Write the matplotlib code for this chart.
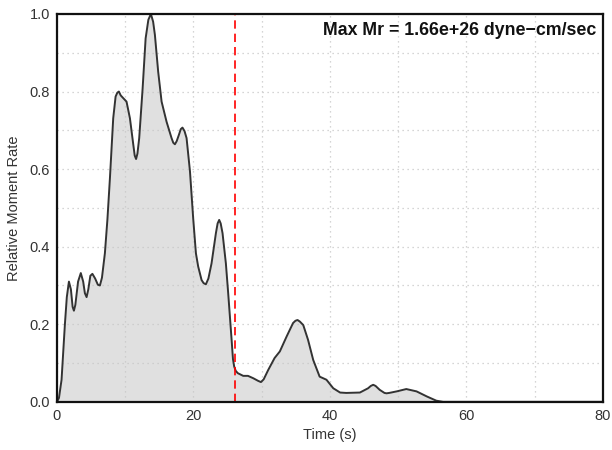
import matplotlib
matplotlib.use('Agg')
import matplotlib.pyplot as plt

plt.rcParams['font.family'] = ['Liberation Sans', 'DejaVu Sans']

# moment rate function
time_s = [0.0, 0.3, 0.68, 1.17, 1.45, 1.76, 2.05, 2.3, 2.49, 2.7, 3.1, 3.5,
          3.85, 4.1, 4.35, 4.6, 4.9, 5.2, 5.6, 6.0, 6.3, 6.6, 7.03, 7.4, 7.77,
          8.25, 8.6, 8.85, 9.08, 9.35, 9.72, 10.2, 10.7, 11.2, 11.4, 11.6,
          11.8, 12.06, 12.56, 13.0, 13.4, 13.77, 14.1, 14.36, 14.84, 15.34,
          16.07, 16.8, 17.05, 17.29, 17.55, 17.87, 18.15, 18.4, 18.7, 19.0,
          19.5, 19.97, 20.37, 20.7, 21.2, 21.5, 21.83, 22.2, 22.66, 23.3,
          23.55, 23.78, 24.0, 24.27, 24.76, 25.1, 25.6, 25.8, 25.98, 26.2,
          26.5, 27.3, 28.0, 28.76, 29.5, 29.9, 30.3, 30.96, 31.9, 32.67,
          33.65, 34.6, 34.95, 35.26, 35.6, 36.1, 36.8, 37.56, 38.5, 39.5,
          40.5, 41.5, 42.4, 44.4, 45.6, 46.0, 46.35, 46.7, 47.3, 48.0, 48.3,
          48.7, 49.8, 51.2, 52.7, 54.2, 55.6, 56.6, 80.0]
moment_rate = [0.0, 0.01, 0.057, 0.2, 0.27, 0.31, 0.29, 0.245, 0.235, 0.25,
               0.31, 0.332, 0.31, 0.28, 0.27, 0.29, 0.325, 0.33, 0.318, 0.302,
               0.30, 0.32, 0.383, 0.47, 0.577, 0.731, 0.787, 0.797, 0.80, 0.79,
               0.783, 0.774, 0.731, 0.662, 0.635, 0.626, 0.64, 0.68, 0.808,
               0.937, 0.985, 1.0, 0.98, 0.946, 0.851, 0.774, 0.722, 0.68,
               0.668, 0.664, 0.672, 0.688, 0.703, 0.707, 0.698, 0.68, 0.594,
               0.473, 0.383, 0.349, 0.314, 0.306, 0.303, 0.318, 0.357, 0.435,
               0.46, 0.469, 0.46, 0.435, 0.357, 0.28, 0.16, 0.11, 0.091, 0.08,
               0.074, 0.067, 0.067, 0.061, 0.054, 0.051, 0.058, 0.082, 0.113,
               0.13, 0.168, 0.203, 0.209, 0.211, 0.207, 0.198, 0.16, 0.108,
               0.065, 0.057, 0.035, 0.024, 0.023, 0.024, 0.035, 0.041, 0.044,
               0.041, 0.031, 0.023, 0.022, 0.023, 0.027, 0.033, 0.027, 0.014,
               0.003, 0.0, 0.0]
centroid_time = 26.1
max_mr_label = 'Max Mr = 1.66e+26 dyne\u2212cm/sec'

fig = plt.figure(figsize=(6.12, 4.5), dpi=100)
ax = fig.add_axes([0.093, 0.107, 0.892, 0.862])

ax.fill_between(time_s, moment_rate, 0, color='#e0e0e0', linewidth=0, zorder=1)
ax.plot(time_s, moment_rate, color='#333333', linewidth=1.4, zorder=3,
        solid_joinstyle='round')
ax.axvline(centroid_time, color='red', linestyle=(0, (5, 3)), linewidth=1.2, zorder=4)

ax.set_xlim(0, 80)
ax.set_ylim(0, 1.0)
ax.set_xticks([0, 20, 40, 60, 80])
ax.set_xticks(range(0, 81, 10), minor=True)
ax.set_yticks([0.0, 0.2, 0.4, 0.6, 0.8, 1.0])
ax.set_yticks([i / 10 for i in range(11)], minor=True)
ax.grid(True, which='both', color='#c8c8c8', linestyle=(0, (1, 3)), linewidth=0.9, zorder=2)
ax.set_axisbelow(False)
ax.tick_params(which='both', length=0, labelsize=10.5, labelcolor='#333333', pad=5)

for s in ax.spines.values():
    s.set_linewidth(1.6)
    s.set_color('#111111')
    s.set_zorder(5)

ax.set_xlabel('Time (s)', fontsize=10.5, color='#333333', labelpad=4)
ax.set_ylabel('Relative Moment Rate', fontsize=10.5, color='#333333', labelpad=6)
ax.text(0.988, 0.978, max_mr_label, transform=ax.transAxes, ha='right', va='top',
        fontsize=12.8, fontweight='bold', color='#111111', zorder=6)

fig.savefig('out.png', dpi=100)
